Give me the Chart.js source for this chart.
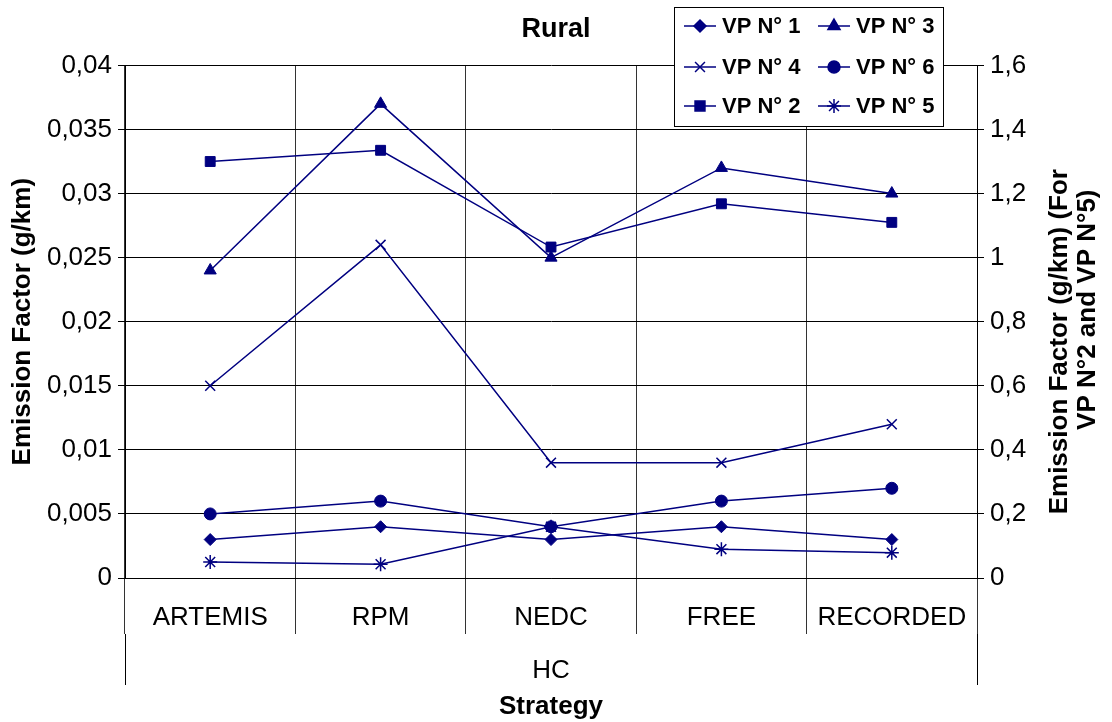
<!DOCTYPE html>
<html>
<head>
<meta charset="utf-8">
<script src="https://cdn.jsdelivr.net/npm/chart.js@4/dist/chart.umd.min.js"></script>
<style>
  body { margin: 0; background: #fff; }
  #wrap { width: 1112px; height: 722px; }
</style>
</head>
<body>
<div id="wrap"><canvas id="chart" width="1112" height="722"></canvas></div>
<script>
// categories
const strategies = ['ARTEMIS', 'RPM', 'NEDC', 'FREE', 'RECORDED'];
const pollutant = ['HC'];

// left axis series (g/km)
const vp1 = [0.003, 0.004, 0.003, 0.004, 0.003];
const vp3 = [0.024, 0.037, 0.025, 0.032, 0.030];
const vp4 = [0.015, 0.026, 0.009, 0.009, 0.012];
const vp6 = [0.005, 0.006, 0.004, 0.006, 0.007];
// right axis series (g/km)
const vp2 = [1.30, 1.335, 1.033, 1.168, 1.11];
const vp5 = [0.05, 0.043, 0.16, 0.09, 0.079];

const navy = '#000080';
const fontFamily = '"Liberation Sans", Arial, sans-serif';
Chart.defaults.font.family = fontFamily;
Chart.defaults.color = '#000';

const fmt = v => String(+Number(v).toFixed(3)).replace('.', ',');

function series(label, data, style, radius, axis) {
    return {
        label: label,
        data: data,
        yAxisID: axis,
        borderColor: navy,
        backgroundColor: navy,
        borderWidth: 1.5,
        pointStyle: style,
        pointRadius: radius,
        pointBorderWidth: style === 'crossRot' || style === 'star' ? 1.5 : 1,
        pointBorderColor: navy,
        pointBackgroundColor: navy,
        tension: 0,
    };
}

const datasets = [
    series('VP N° 1', vp1, 'rectRot', 6, 'y'),
    series('VP N° 2', vp2, 'rect', 7, 'y2'),
    series('VP N° 3', vp3, 'triangle', 7, 'y'),
    series('VP N° 4', vp4, 'crossRot', 7, 'y'),
    series('VP N° 5', vp5, 'star', 7, 'y2'),
    series('VP N° 6', vp6, 'circle', 6, 'y'),
];
// legend rows, two columns each
const legendOrder = [[0, 2], [3, 5], [1, 4]];

// boxed legend in the top right corner, drawn over the plot
const legendBox = {
    id: 'legendBox',
    afterDraw(chart) {
        const ctx = chart.ctx;
        const x0 = 674, y0 = 7, w = 269, h = 119;
        ctx.save();
        ctx.fillStyle = '#fff';
        ctx.fillRect(x0, y0, w, h);
        ctx.strokeStyle = '#000';
        ctx.lineWidth = 1;
        ctx.strokeRect(x0 + 0.5, y0 + 0.5, w, h);
        const rowsY = [26, 67, 106];
        const colsX = [700, 834];
        legendOrder.forEach((row, r) => {
            row.forEach((di, c) => {
                const ds = datasets[di];
                const cx = colsX[c], cy = rowsY[r];
                ctx.strokeStyle = navy;
                ctx.lineWidth = 1.5;
                ctx.beginPath();
                ctx.moveTo(cx - 16, cy);
                ctx.lineTo(cx + 16, cy);
                ctx.stroke();
                ctx.fillStyle = navy;
                Chart.helpers.drawPoint(ctx, {
                    pointStyle: ds.pointStyle,
                    radius: ds.pointRadius,
                    borderWidth: ds.pointBorderWidth,
                    rotation: 0,
                }, cx, cy);
                ctx.fillStyle = '#000';
                ctx.font = 'bold 22px ' + fontFamily;
                ctx.textAlign = 'left';
                ctx.textBaseline = 'middle';
                ctx.fillText(ds.label, cx + 22, cy + 1);
            });
        });
        ctx.restore();
    }
};

// right axis title, reading bottom to top like Excel does
const rightTitle = {
    id: 'rightTitle',
    afterDraw(chart) {
        const ctx = chart.ctx;
        const area = chart.chartArea;
        const cy = (area.top + area.bottom) / 2;
        ctx.save();
        ctx.translate(1074, cy);
        ctx.rotate(-Math.PI / 2);
        ctx.fillStyle = '#000';
        ctx.font = 'bold 26px ' + fontFamily;
        ctx.textAlign = 'center';
        ctx.textBaseline = 'middle';
        ctx.fillText('Emission Factor (g/km) (For', -20, -14);
        ctx.fillText('VP N°2 and VP N°5)', 12, 14);
        ctx.restore();
    }
};

new Chart(document.getElementById('chart').getContext('2d'), {
    type: 'line',
    data: { labels: strategies, datasets: datasets },
    options: {
        responsive: false,
        animation: false,
        plugins: {
            legend: { display: false },
            tooltip: { enabled: false },
            title: {
                display: true,
                text: 'Rural',
                color: '#000',
                font: { size: 27, weight: 'bold' },
                padding: { top: 13, bottom: 20 },
            },
        },
        scales: {
            x: {
                offset: true,
                grid: { offset: true, color: '#333', tickLength: 56 },
                border: { color: '#000' },
                ticks: { color: '#000', font: { size: 26 }, padding: -32, maxRotation: 0, autoSkip: false },
                afterFit: s => { s.height = 56; },
            },
            x2: {
                type: 'category',
                labels: pollutant,
                position: 'bottom',
                offset: true,
                grid: { offset: true, drawOnChartArea: false, color: '#000', tickLength: 51 },
                border: { display: false },
                ticks: { color: '#000', font: { size: 26 }, padding: -30 },
                title: {
                    display: true,
                    text: 'Strategy',
                    color: '#000',
                    font: { size: 26, weight: 'bold' },
                    padding: { top: 3, bottom: 0 },
                },
                afterFit: s => { s.height = 88; },
            },
            y: {
                position: 'left',
                min: 0,
                max: 0.04,
                ticks: { stepSize: 0.005, callback: fmt, color: '#000', font: { size: 26 }, padding: 6 },
                grid: { color: '#000', tickLength: 7 },
                border: { color: '#000' },
                title: {
                    display: true,
                    text: 'Emission Factor (g/km)',
                    color: '#000',
                    font: { size: 26, weight: 'bold' },
                    padding: { top: 7, bottom: 0 },
                },
                afterFit: s => { s.width = 125; },
            },
            y2: {
                position: 'right',
                min: 0,
                max: 1.6,
                ticks: { stepSize: 0.2, callback: fmt, color: '#000', font: { size: 26 }, padding: 6 },
                grid: { drawOnChartArea: false, color: '#000', tickLength: 7 },
                border: { color: '#000' },
                afterFit: s => { s.width = 135; },
            },
        },
    },
    plugins: [legendBox, rightTitle],
});
</script>
</body>
</html>
